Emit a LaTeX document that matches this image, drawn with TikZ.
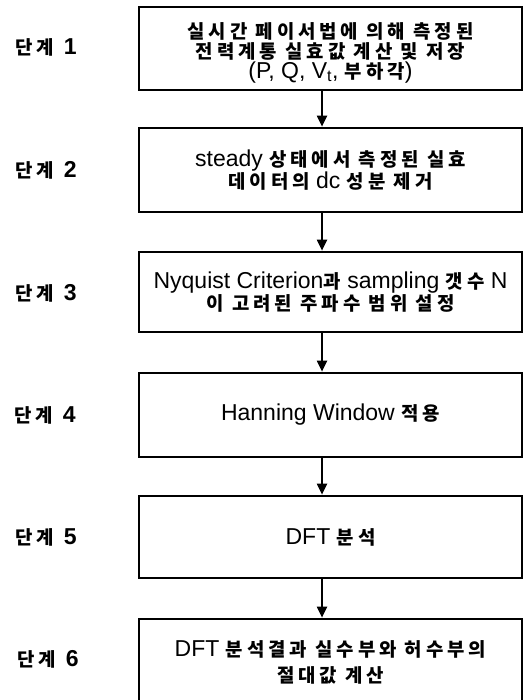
\documentclass[tikz,border=0pt]{standalone}
\usepackage{fontspec}
\setmainfont{Liberation Sans}
\newfontfamily\krfont{Noto Sans CJK KR}[Scale=0.82,LetterSpace=21]
\newcommand\ko[1]{{\krfont\bfseries #1}}
\usetikzlibrary{arrows.meta}
\begin{document}
\begin{tikzpicture}[x=1pt,y=-1pt,
  box/.style={draw, line width=2.7pt, minimum width=383pt, align=center, inner sep=0pt,
    font=\fontsize{23}{20}\selectfont},
  lab/.style={anchor=west, inner sep=0pt, font=\fontsize{23}{20}\selectfont},
  arr/.style={line width=2pt, -{Triangle[length=11pt,width=10pt]}}]
\useasboundingbox (0,0) rectangle (526,700);
\clip (0,0) rectangle (526,700);
\coordinate (ax) at (322,0);
\node[box, minimum height=83pt] (b1) at (330.5,48.5)
  {\rule{0pt}{24pt}\ko{실시간 페이서법에 의해 측정된}\\\ko{전력계통 실효값 계산 및 저장}\\(P, Q, V\textsubscript{t}, \ko{부하각})};
\node[box, minimum height=84pt] (b2) at (330.5,170)
  {steady \ko{상태에서 측정된 실효}\\\ko{데이터의} dc \ko{성분 제거}};
\node[box, minimum height=80pt] (b3) at (330.5,292)
  {Nyquist Criterion\ko{과} sampling \ko{갯수} N\\\ko{이 고려된 주파수 범위 설정}};
\node[box, minimum height=84pt] (b4) at (330.5,415)
  {Hanning Window \ko{적용}};
\node[box, minimum height=82pt] (b5) at (330.5,537)
  {DFT \ko{분석}};
\node[box, minimum height=86pt, font=\fontsize{23}{26}\selectfont] (b6) at (330.5,662)
  {DFT \ko{분석결과 실수부와 허수부의}\\\ko{절대값 계산}};
\node[lab] (l1) at (15,47) {\ko{단계}\hspace{6pt}\textbf{1}};
\node[lab] (l2) at (15,170) {\ko{단계}\hspace{6pt}\textbf{2}};
\node[lab] (l3) at (15,293) {\ko{단계}\hspace{6pt}\textbf{3}};
\node[lab] (l4) at (14,415) {\ko{단계}\hspace{6pt}\textbf{4}};
\node[lab] (l5) at (15,537) {\ko{단계}\hspace{6pt}\textbf{5}};
\node[lab] (l6) at (17,659) {\ko{단계}\hspace{6pt}\textbf{6}};
\draw[arr] (b1.south -| ax) -- (b2.north -| ax);
\draw[arr] (b2.south -| ax) -- (b3.north -| ax);
\draw[arr] (b3.south -| ax) -- (b4.north -| ax);
\draw[arr] (b4.south -| ax) -- (b5.north -| ax);
\draw[arr] (b5.south -| ax) -- (b6.north -| ax);
\end{tikzpicture}
\end{document}
